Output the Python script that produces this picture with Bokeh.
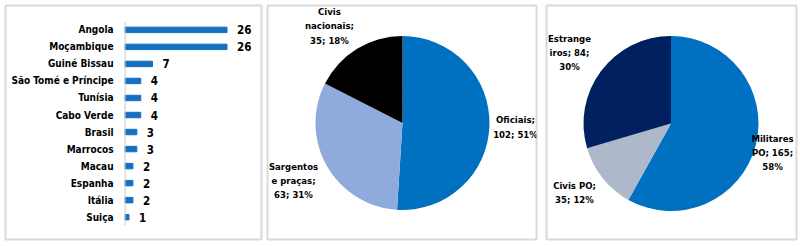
import math

from bokeh.core.properties import value
from bokeh.embed import file_html
from bokeh.layouts import row
from bokeh.models import Range1d
from bokeh.plotting import figure
from bokeh.resources import INLINE

# ---- data -------------------------------------------------------------
countries = ["Angola", "Moçambique", "Guiné Bissau", "São Tomé e Príncipe",
             "Tunísia", "Cabo Verde", "Brasil", "Marrocos", "Macau",
             "Espanha", "Itália", "Suiça"]
counts = [26, 26, 7, 4, 4, 4, 3, 3, 2, 2, 2, 1]

staff_labels = ["Oficiais", "Sargentos\ne praças", "Civis\nnacionais"]
staff_values = [102, 63, 35]
staff_pcts = [51, 31, 18]

origin_values = [165, 35, 84]
origin_pcts = [58, 12, 30]

# ---- style ------------------------------------------------------------
FONT = value("'DejaVu Sans Condensed', 'Liberation Sans Narrow', sans-serif")
BORDER = "#D9D9D9"
BAR_BLUE = "#1570C2"
H = 246


def panel(width, left, right):
    p = figure(width=width, height=H, output_backend="svg",
               toolbar_location=None, x_axis_location=None,
               y_axis_location=None, min_border_left=left,
               min_border_right=right, min_border_top=5,
               min_border_bottom=7, outline_line_color=BORDER,
               outline_line_width=2, background_fill_color="white",
               border_fill_color="white")
    p.xgrid.visible = False
    p.ygrid.visible = False
    return p


# ---- horizontal bar chart ---------------------------------------------
bars = panel(264, 5, 3)
pos = list(range(len(countries)))
bars.x_range = Range1d(-30.5, 34.8)
bars.y_range = Range1d(len(countries) - 1 + 1.31, -1.43)

bars.hbar(y=pos, left=0, right=counts, height=0.32, color=BAR_BLUE)
bars.segment(x0=0, y0=-0.45, x1=0, y1=len(countries) - 1 + 0.47,
             line_color="#C8C8C8", line_width=1)
bars.text(x=[-2.93] * len(countries), y=pos, text=countries,
          text_align="right", text_baseline="middle", text_font=FONT,
          text_font_style="bold", text_font_size="10px", text_color="black")
bars.text(x=[c + 2.55 for c in counts], y=pos, text=[str(c) for c in counts],
          text_align="left", text_baseline="middle", text_font=FONT,
          text_font_style="bold", text_font_size="11.5px", text_color="black")


# ---- pies ---------------------------------------------------------------
def pie(p, cx, cy, r, vals, colors):
    total = sum(vals)
    starts, ends = [], []
    acc = 0
    for v in vals:
        starts.append(math.pi / 2 - 2 * math.pi * acc / total)
        acc += v
        ends.append(math.pi / 2 - 2 * math.pi * acc / total)
    p.wedge(x=[cx] * len(vals), y=[cy] * len(vals), radius=r,
            start_angle=starts, end_angle=ends, direction="clock",
            fill_color=colors, line_color=None)


def slice_labels(p, xs, ys, texts):
    p.text(x=xs, y=ys, text=texts, text_align="center",
           text_baseline="middle", text_font=FONT, text_font_style="bold",
           text_font_size="9.5px", text_line_height=1.3, text_color="black")


# staff categories
staff = panel(274, 3, 2)
staff.x_range = Range1d(267, 536)
staff.y_range = Range1d(H - 239, H - 5)
pie(staff, 402, H - 122.5, 87, staff_values, ["#0070C0", "#8FAADC", "#000000"])
staff_text = [f"{n};\n{v}; {pc}%" for n, v, pc in
              zip(staff_labels, staff_values, staff_pcts)]
slice_labels(staff, [515, 293, 329], [H - 126.5, H - 180, H - 25.3], staff_text)

# origin of personnel
origin = panel(262, 8, 4)
origin.x_range = Range1d(546, 796)
origin.y_range = Range1d(H - 239, H - 5)
pie(origin, 670.5, H - 123, 87.5, origin_values,
    ["#0070C0", "#ADB9CA", "#002060"])
origin_text = [f"Militares\nPO; {origin_values[0]};\n{origin_pcts[0]}%",
               f"Civis PO;\n{origin_values[1]}; {origin_pcts[1]}%",
               f"Estrange\niros; {origin_values[2]};\n{origin_pcts[2]}%"]
slice_labels(origin, [772, 574, 569], [H - 152, H - 192, H - 52], origin_text)

layout = row(bars, staff, origin, spacing=0)
open("out.html", "w").write(file_html(layout, INLINE))
